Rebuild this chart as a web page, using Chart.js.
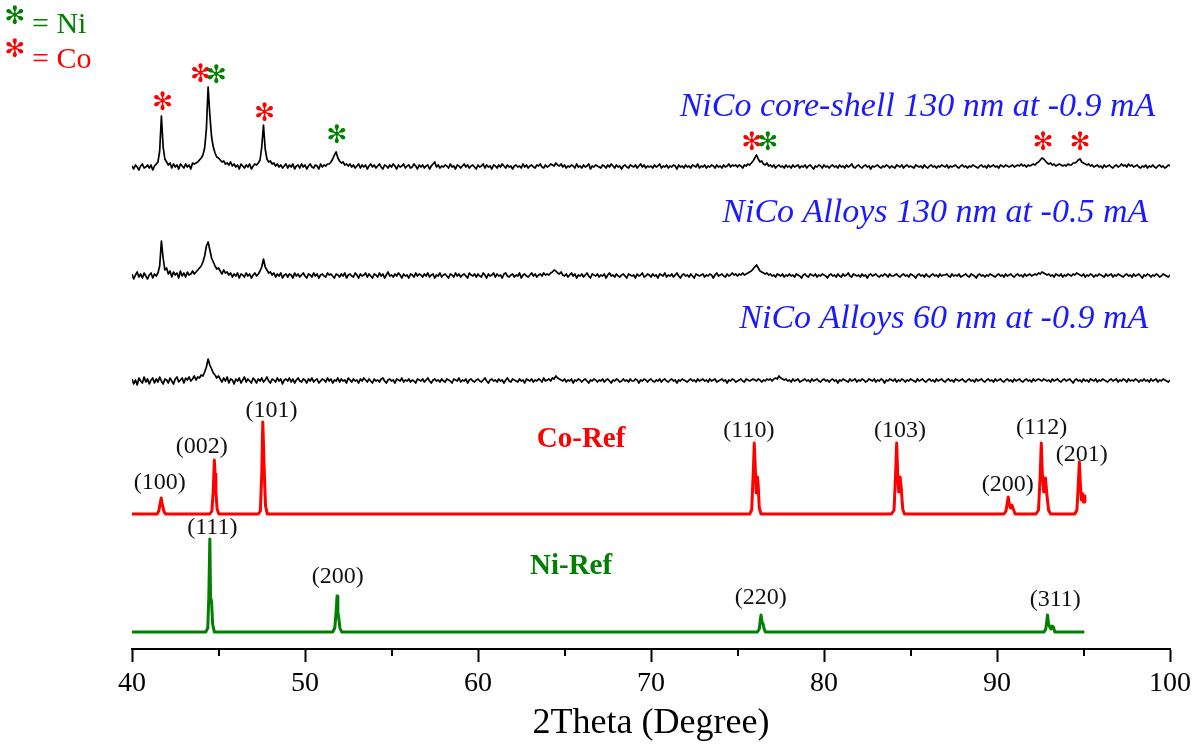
<!DOCTYPE html>
<html>
<head>
<meta charset="utf-8">
<script src="https://cdn.jsdelivr.net/npm/chart.js@4.4.1/dist/chart.umd.min.js"></script>
<style>
  html, body { margin: 0; padding: 0; background: #ffffff; }
  #wrap { width: 1196px; height: 751px; }
</style>
</head>
<body>
<div id="wrap"><canvas id="xrd" width="1196" height="751"></canvas></div>
<script>
// ---- measured scans: 2theta from 40 to 100 deg, 0.1 deg step (intensity, a.u.) ----
const scanStart = 40;
const scanStep = 0.1;

const coreShell130 = [
  1,-2,2,0,-3,1,3,-1,0,2,
  -1,2,-3,1,3,5,16,51,20,8,
  5,2,4,-1,3,0,2,-2,3,1,
  -1,3,0,2,-2,4,3,4,5,7,
  9,12,19,38,80,52,30,20,14,10,
  9,7,5,6,3,4,2,5,1,3,
  0,2,-2,3,1,-1,2,0,3,-2,
  1,3,2,4,7,20,42,18,8,5,
  6,3,4,1,3,0,2,-1,1,3,
  -1,2,0,3,-2,1,2,-1,3,0,
  2,-2,1,3,0,-1,2,1,-2,3,
  0,2,1,3,3,5,8,12,15,9,
  6,4,5,2,3,1,3,0,2,-1,
  1,3,-1,2,0,2,-2,1,3,0,
  2,-1,1,3,0,-2,2,1,-1,2,
  0,3,1,-2,2,0,1,3,-1,1,
  2,-1,0,3,1,-2,2,0,2,-1,
  1,2,-2,1,3,5,0,2,-1,1,
  0,2,1,-1,3,0,1,-2,2,1,
  -1,1,3,0,2,-1,1,2,0,-2,
  2,0,1,3,-1,2,0,1,-2,2,
  1,-1,2,0,3,1,-1,2,0,1,
  -2,1,2,0,1,-1,3,0,2,-1,
  1,2,0,-1,2,1,3,0,-1,2,
  0,1,3,2,1,4,2,1,3,0,
  2,-1,1,0,2,1,-1,3,0,1,
  -1,2,0,1,3,-2,1,0,2,1,
  0,-1,2,1,-1,2,0,3,1,-1,
  2,0,1,-2,1,2,0,-1,2,1,
  0,2,-1,1,3,0,2,-1,1,0,
  1,-1,2,0,1,3,-1,1,0,2,
  -1,1,0,2,1,-2,2,0,1,-1,
  2,0,1,-1,2,1,0,3,-1,1,
  0,2,-1,1,0,2,1,-1,2,0,
  1,-1,2,0,1,3,0,2,1,2,
  0,2,1,-1,2,1,3,2,4,6,
  9,12,8,5,6,3,2,4,1,2,
  0,2,-1,1,2,0,1,-1,2,0,
  1,-1,2,0,1,2,-1,1,0,2,
  -1,1,2,0,-2,1,0,2,1,-1,
  2,0,1,-1,1,2,0,1,-1,2,
  0,1,-1,2,0,1,3,0,-1,1,
  2,0,-1,1,2,0,1,-2,1,0,
  1,2,0,-1,1,0,2,1,-1,1,
  0,-1,2,1,0,2,-1,1,2,0,
  1,0,-1,2,1,0,1,-1,2,0,
  -1,1,2,0,1,-1,1,0,2,1,
  0,2,-1,1,0,1,2,0,-1,1,
  2,0,1,-1,1,0,2,1,0,-1,
  1,2,0,1,-1,2,0,1,2,0,
  1,-1,2,1,0,2,1,0,1,2,
  0,1,2,1,3,1,2,0,2,1,
  2,3,2,4,5,7,9,8,6,4,
  3,4,2,3,1,2,3,2,1,2,
  1,3,2,2,4,4,5,7,8,5,
  4,3,2,3,1,2,0,1,2,0,
  1,-1,2,0,1,2,0,-1,1,2,
  0,1,3,1,2,0,3,1,2,0,
  1,2,0,-1,1,0,2,-1,1,0,
  2,0,-1,1,2,0,1,-1,0,2,
  1
];

const alloy130 = [
  2,-3,1,4,-1,2,-2,3,0,-3,
  1,3,-2,2,0,3,10,35,18,6,
  8,2,5,-1,4,1,3,-2,5,0,
  3,-1,4,1,2,5,2,4,6,8,
  10,14,20,30,34,26,18,14,10,7,
  8,5,2,6,3,4,1,3,-1,2,
  0,3,-2,2,1,-1,3,0,2,-2,
  1,3,0,2,5,9,17,9,6,3,
  4,1,3,-1,2,0,3,-2,1,2,
  -1,2,1,-2,3,0,2,-1,1,3,
  0,-2,2,1,-1,3,0,2,-2,1,
  2,0,-1,3,1,2,0,-2,2,1,
  -1,2,0,3,-2,1,2,0,-1,3,
  1,-2,2,0,1,3,-1,2,0,-2,
  2,1,-1,3,0,2,-2,1,4,0,
  1,-1,2,0,3,1,-2,2,0,1,
  -2,2,1,-1,3,0,2,1,-1,2,
  0,3,-1,1,2,-2,1,0,3,-1,
  1,2,0,-2,2,1,-1,3,0,2,
  -1,1,2,0,-2,3,1,0,2,-1,
  2,0,-1,3,1,-2,2,0,1,3,
  -1,2,0,1,-2,2,3,0,-1,1,
  2,-1,1,0,3,-2,1,2,0,-1,
  1,3,0,2,-1,1,2,0,3,1,
  2,1,3,4,6,5,3,2,4,1,
  0,2,-1,1,3,0,2,-2,1,0,
  2,-1,1,3,0,-2,2,1,0,2,
  -1,1,0,2,-2,1,3,0,1,-1,
  2,0,-1,1,2,0,-2,2,1,0,
  1,-2,2,0,1,3,-1,0,2,1,
  -1,2,0,1,-2,2,1,0,3,-1,
  1,0,2,-1,1,3,0,-2,1,2,
  0,1,-1,2,0,-2,2,1,0,1,
  2,-1,1,0,2,1,-2,1,3,0,
  1,2,0,-1,2,0,1,3,1,2,
  0,2,1,3,1,2,3,4,5,7,
  9,11,8,5,4,3,2,3,1,2,
  0,1,-1,2,1,0,2,-1,1,0,
  2,0,1,-1,2,1,0,-2,1,2,
  0,-1,2,1,0,2,-1,1,0,2,
  1,0,-2,1,2,0,1,-1,2,0,
  -1,2,0,1,3,0,-1,2,1,0,
  1,-1,2,0,1,-2,1,2,0,1,
  2,0,-1,1,0,2,1,-1,2,0,
  0,1,2,0,-1,1,2,0,1,-1,
  2,1,0,-2,1,2,0,1,-1,2,
  0,-1,1,2,0,1,-1,2,0,1,
  1,2,0,-1,2,0,1,0,2,-1,
  0,1,2,0,-1,2,1,0,-2,1,
  2,0,1,-1,1,0,2,1,0,-1,
  1,2,0,1,-1,2,0,1,2,0,
  -1,1,2,0,1,-1,2,0,1,2,
  0,1,2,1,3,2,4,3,2,1,
  2,0,1,-1,2,1,0,2,-1,1,
  0,2,1,0,2,1,3,2,1,0,
  2,-1,1,0,2,1,-1,1,0,2,
  1,0,-1,2,0,1,2,-1,1,0,
  2,1,0,-1,1,2,0,1,-1,2,
  0,1,2,0,-2,1,0,2,1,-1,
  1,0,2,1,-1,0,2,1,0,-1,
  1
];

const alloy60 = [
  2,-3,1,-4,3,0,-2,4,-1,2,
  -3,1,3,-2,2,-1,4,0,-3,2,
  1,-2,3,0,-3,2,4,-1,1,3,
  -2,3,1,4,0,2,5,1,4,3,
  6,5,9,14,22,16,12,8,6,3,
  5,2,-1,3,0,4,-2,2,1,-3,
  2,0,3,-2,1,4,-1,2,0,-2,
  3,1,-2,2,0,3,-1,1,4,0,
  -2,2,1,-1,3,0,2,-3,1,2,
  0,3,-1,2,-2,1,3,0,-1,2,
  1,-2,2,0,3,-1,1,2,-2,0,
  2,1,-1,3,0,2,-2,1,0,3,
  -1,2,0,1,-2,3,1,-1,2,0,
  1,-2,2,0,3,1,-1,2,0,-2,
  2,0,1,-1,2,3,0,-2,1,2,
  0,1,-2,2,1,0,3,-1,1,0,
  2,-1,1,0,-2,2,1,0,2,-1,
  1,3,0,-2,1,2,0,1,-1,2,
  0,-1,2,1,0,-2,2,1,0,3,
  -1,1,0,2,-2,1,2,0,-1,1,
  2,0,-1,1,3,0,-2,1,2,0,
  1,-1,2,0,1,-2,1,3,0,-1,
  2,1,0,-1,2,0,1,-2,2,1,
  0,2,-1,1,0,2,1,-1,3,0,
  1,2,0,3,2,5,3,2,1,0,
  2,-1,1,0,2,-2,1,0,2,1,
  -1,1,2,0,-2,1,0,2,1,-1,
  1,0,2,-1,1,2,0,-2,1,0,
  2,1,-1,0,2,0,1,-1,2,0,
  0,2,1,-2,1,0,2,1,-1,1,
  2,0,-1,1,0,2,-1,1,2,0,
  -1,1,2,0,1,-2,1,0,2,1,
  0,-1,1,2,0,1,-1,2,0,1,
  2,0,1,-1,2,0,1,2,-1,0,
  1,2,0,1,-2,1,0,2,1,-1,
  0,1,2,0,-1,2,1,0,1,2,
  1,0,2,1,-1,1,0,2,1,2,
  0,2,3,2,5,3,2,1,2,0,
  1,-1,2,0,1,2,-1,0,1,2,
  0,1,-1,2,0,1,2,0,-1,1,
  2,0,1,-1,1,2,0,1,-2,1,
  0,2,1,0,-1,2,0,1,2,-1,
  1,0,2,1,-1,0,2,1,0,2,
  -1,1,0,2,1,-2,1,0,2,1,
  0,2,-1,1,0,2,1,-1,1,0,
  2,1,0,-1,2,0,1,2,0,-1,
  1,2,0,1,-1,2,0,1,2,0,
  -1,1,2,0,1,-1,2,1,0,1,
  2,0,-1,1,2,0,1,-1,2,0,
  1,2,0,-1,1,2,0,1,-1,2,
  0,1,2,0,-1,1,2,0,1,-1,
  2,0,1,2,0,-1,1,2,0,1,
  -1,2,0,1,2,1,0,2,1,0,
  1,-1,2,0,1,2,0,-1,1,2,
  0,1,2,0,-2,1,2,0,1,-1,
  2,0,1,-1,2,1,0,2,-1,1,
  0,2,1,0,-1,1,2,0,1,2,
  -1,1,0,2,1,-1,2,0,1,0,
  2,1,-1,1,0,2,0,1,-1,2,
  0,1,2,-1,1,0,2,1,0,-1,
  1
];

// ---- reference patterns (stick profiles with K-alpha doublets) ----
const coRefTheta = [40.00,
  41.45,41.55,41.62,41.69,41.74,41.80,41.86,41.95,
  44.50,44.62,44.70,44.76,44.80,44.85,44.92,45.02,
  47.30,47.42,47.50,47.56,47.60,47.66,47.72,47.82,
  75.70,75.82,75.92,75.97,76.02,76.08,76.15,76.20,76.26,76.36,
  83.90,84.05,84.14,84.20,84.26,84.32,84.40,84.47,84.55,84.65,
  90.40,90.52,90.60,90.65,90.72,90.78,90.86,90.94,91.05,
  92.25,92.40,92.50,92.56,92.62,92.70,92.80,92.88,92.98,93.10,
  94.50,94.62,94.70,94.76,94.82,94.88,94.95,95.00,95.05,95.08];
const coRefInt = [0,
  0,3,10,16,10,6,2,0,
  0,3,25,54,40,22,5,0,
  0,3,40,92,70,35,8,0,
  0,4,45,71,50,21,37,28,6,0,
  0,4,40,71,40,22,37,25,5,0,
  0,3,12,17,9,6,9,5,0,
  0,4,40,71,40,22,36,20,4,0,
  0,4,30,52,30,14,20,12,18,12];

const niRefTheta = [40.00,
  44.26,44.38,44.44,44.50,44.54,44.60,44.66,44.76,
  51.60,51.72,51.80,51.85,51.90,51.95,52.02,52.12,
  76.15,76.26,76.32,76.36,76.42,76.48,76.54,76.62,
  92.72,92.82,92.88,92.92,92.98,93.05,93.12,93.20,93.26,93.34,
  95.05];
const niRefInt = [0,
  0,4,35,93,35,30,8,0,
  0,4,20,36,20,14,4,0,
  0,3,12,17,10,8,3,0,
  0,3,11,17,8,5,3,6,5,0,
  0];

// vertical stacking of the five patterns (a.u.)
const stackOffset = { coreShell130: 482, alloy130: 373, alloy60: 268, coRef: 135, niRef: 17 };

// axis ticks
const majorTicks = [40, 50, 60, 70, 80, 90, 100];
const minorTicks = [45, 55, 65, 75, 85, 95];

// annotations: Miller indices of the reference patterns
const coHkl      = ['(100)', '(002)', '(101)', '(110)', '(103)', '(200)', '(112)', '(201)'];
const coHklTheta = [41.60, 44.03, 48.06, 75.66, 84.39, 90.62, 92.58, 94.90];
const coHklLevel = [31, 67, 103, 83, 83, 29, 86, 59];
const niHkl      = ['(111)', '(200)', '(220)', '(311)'];
const niHklTheta = [44.64, 51.89, 76.35, 93.37];
const niHklLevel = [104, 55, 34, 32];

// phase markers on the core-shell scan
const markTheta = [41.77, 43.97, 44.88, 47.67, 51.85, 75.84, 76.76, 92.67, 94.81];
const markLevel = [64, 92, 91, 53, 31, 24, 24, 24, 24];
const markPhase = ['Co', 'Co', 'Ni', 'Co', 'Ni', 'Co', 'Ni', 'Co', 'Co'];

const sampleNames = ['NiCo core-shell 130 nm at -0.9 mA', 'NiCo Alloys 130 nm at -0.5 mA', 'NiCo Alloys 60 nm at -0.9 mA'];
const sampleNameEnd = [99.15, 98.74, 98.74];
const sampleNameLevel = [60, 63, 62];

const RED = '#ff0000';
const GREEN = '#008000';
const BLUE = '#1a1aff';
const SERIF = '"Liberation Serif", "Times New Roman", serif';
const STAR = '\u273B';

function scanData(vals, off) {
  return vals.map((v, i) => ({ x: +(scanStart + i * scanStep).toFixed(2), y: v + off }));
}
function refData(theta, inten, off) {
  return theta.map((t, i) => ({ x: t, y: inten[i] + off }));
}

const annotations = {
  id: 'annotations',
  afterDatasetsDraw(chart) {
    const { ctx, scales: { x, y } } = chart;
    const px = v => x.getPixelForValue(v);
    const py = v => y.getPixelForValue(v);
    ctx.save();

    // minor ticks between the labelled ones
    ctx.strokeStyle = '#000';
    ctx.lineWidth = 2;
    minorTicks.forEach(v => {
      const xx = Math.round(px(v));
      ctx.beginPath();
      ctx.moveTo(xx, y.bottom);
      ctx.lineTo(xx, y.bottom + 7);
      ctx.stroke();
    });

    ctx.textAlign = 'center';
    ctx.textBaseline = 'middle';

    // Miller indices
    ctx.fillStyle = '#111';
    ctx.font = '24px ' + SERIF;
    coHkl.forEach((t, i) => ctx.fillText(t, px(coHklTheta[i]), py(stackOffset.coRef + coHklLevel[i])));
    niHkl.forEach((t, i) => ctx.fillText(t, px(niHklTheta[i]), py(stackOffset.niRef + niHklLevel[i])));

    // pattern names
    ctx.font = 'bold 29px ' + SERIF;
    ctx.fillStyle = RED;
    ctx.fillText('Co-Ref', px(65.96), py(stackOffset.coRef + 74));
    ctx.fillStyle = GREEN;
    ctx.fillText('Ni-Ref', px(65.38), py(stackOffset.niRef + 65));

    // sample names
    ctx.font = 'italic 34px ' + SERIF;
    ctx.fillStyle = BLUE;
    ctx.textAlign = 'right';
    ctx.fillText(sampleNames[0], px(sampleNameEnd[0]), py(stackOffset.coreShell130 + sampleNameLevel[0]));
    ctx.fillText(sampleNames[1], px(sampleNameEnd[1]), py(stackOffset.alloy130 + sampleNameLevel[1]));
    ctx.fillText(sampleNames[2], px(sampleNameEnd[2]), py(stackOffset.alloy60 + sampleNameLevel[2]));

    // phase markers
    ctx.textAlign = 'center';
    ctx.font = 'bold 25px "DejaVu Sans"';
    markTheta.forEach((t, i) => {
      ctx.fillStyle = markPhase[i] === 'Ni' ? GREEN : RED;
      ctx.fillText(STAR, px(t), py(stackOffset.coreShell130 + markLevel[i]));
    });

    // key
    ctx.fillStyle = GREEN;
    ctx.fillText(STAR, 15, 17);
    ctx.fillStyle = RED;
    ctx.fillText(STAR, 15, 50);
    ctx.textAlign = 'left';
    ctx.font = '30px ' + SERIF;
    ctx.fillStyle = GREEN;
    ctx.fillText('= Ni', 32, 25);
    ctx.fillStyle = RED;
    ctx.fillText('= Co', 32, 60);

    ctx.restore();
  }
};

new Chart(document.getElementById('xrd'), {
  type: 'line',
  data: {
    datasets: [
      { label: sampleNames[0], data: scanData(coreShell130, stackOffset.coreShell130), borderColor: '#000', borderWidth: 1.7 },
      { label: sampleNames[1], data: scanData(alloy130, stackOffset.alloy130), borderColor: '#000', borderWidth: 1.7 },
      { label: sampleNames[2], data: scanData(alloy60, stackOffset.alloy60), borderColor: '#000', borderWidth: 1.7 },
      { label: 'Co-Ref', data: refData(coRefTheta, coRefInt, stackOffset.coRef), borderColor: RED, borderWidth: 3 },
      { label: 'Ni-Ref', data: refData(niRefTheta, niRefInt, stackOffset.niRef), borderColor: GREEN, borderWidth: 3 }
    ]
  },
  options: {
    responsive: false,
    animation: false,
    devicePixelRatio: 1,
    layout: { padding: { left: 132, right: 26, top: 9, bottom: 0 } },
    elements: { point: { radius: 0 }, line: { tension: 0, borderJoinStyle: 'round' } },
    plugins: { legend: { display: false }, tooltip: { enabled: false } },
    scales: {
      x: {
        type: 'linear',
        min: 40,
        max: 100,
        afterFit(scale) { scale.height = 102; },
        afterBuildTicks(scale) { scale.ticks = majorTicks.map(v => ({ value: v })); },
        border: { display: true, color: '#000', width: 2 },
        grid: { display: true, drawOnChartArea: false, drawTicks: true, tickLength: 13, tickWidth: 2, tickColor: '#000' },
        ticks: { color: '#000', font: { family: SERIF, size: 28 }, padding: 5, maxRotation: 0 },
        title: { display: true, text: '2Theta (Degree)', color: '#000', font: { family: SERIF, size: 36 }, padding: { top: 0, bottom: 6 } }
      },
      y: { display: false, min: 0, max: 640 }
    }
  },
  plugins: [annotations]
});
</script>
</body>
</html>
